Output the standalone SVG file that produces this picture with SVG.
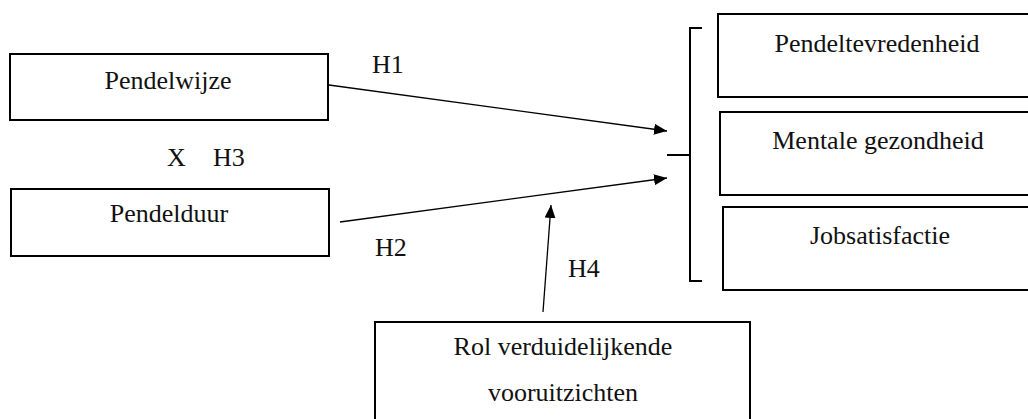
<svg xmlns="http://www.w3.org/2000/svg" width="1028" height="419" viewBox="0 0 1028 419" font-family="'Liberation Serif', 'DejaVu Serif', serif">
  <style>
    .box { fill: #ffffff; stroke: #000000; stroke-width: 2; }
    .lbl { font-size: 26px; fill: #111111; }
    .mid { text-anchor: middle; }
    .edge { fill: none; stroke: #000000; stroke-width: 1.3; }
    .brace { fill: none; stroke: #000000; stroke-width: 2; }
  </style>
  <defs>
    <marker id="arrow" markerUnits="userSpaceOnUse" markerWidth="14" markerHeight="12" refX="13" refY="5.5" orient="auto">
      <path d="M0,0 L13,5.5 L0,11 Z" fill="#000000"/>
    </marker>
  </defs>
  <rect width="1028" height="419" fill="#ffffff"/>

  <!-- predictors -->
  <g id="node-pendelwijze">
    <rect class="box" x="10" y="54" width="318" height="66"/>
    <text class="lbl mid" x="168" y="89">Pendelwijze</text>
  </g>
  <g id="node-pendelduur">
    <rect class="box" x="11" y="189" width="318" height="67"/>
    <text class="lbl mid" x="169" y="222">Pendelduur</text>
  </g>
  <g id="label-interaction">
    <text class="lbl" x="167" y="166">X</text>
    <text class="lbl" x="213" y="166">H3</text>
  </g>

  <!-- outcomes -->
  <g id="node-pendeltevredenheid">
    <rect class="box" x="718" y="14" width="320" height="83"/>
    <text class="lbl mid" x="877" y="52">Pendeltevredenheid</text>
  </g>
  <g id="node-mentale-gezondheid">
    <rect class="box" x="720" y="112" width="320" height="83"/>
    <text class="lbl mid" x="878" y="149">Mentale gezondheid</text>
  </g>
  <g id="node-jobsatisfactie">
    <rect class="box" x="723" y="207" width="320" height="83"/>
    <text class="lbl mid" x="880" y="244">Jobsatisfactie</text>
  </g>

  <!-- moderator -->
  <g id="node-rol">
    <rect class="box" x="375" y="322" width="375" height="110"/>
    <text class="lbl mid" x="563" y="355">Rol verduidelijkende</text>
    <text class="lbl mid" x="563" y="401">vooruitzichten</text>
  </g>

  <!-- connectors -->
  <g id="connectors">
    <path class="brace" d="M702,28 H690 V281 H702"/>
    <path class="brace" d="M667,155 H690"/>
    <line class="edge" x1="329" y1="85" x2="667" y2="131" marker-end="url(#arrow)"/>
    <line class="edge" x1="340" y1="222" x2="667" y2="178" marker-end="url(#arrow)"/>
    <line class="edge" x1="543" y1="312" x2="551" y2="205" marker-end="url(#arrow)"/>
    <text class="lbl" x="372" y="73">H1</text>
    <text class="lbl" x="375" y="256">H2</text>
    <text class="lbl" x="568" y="277">H4</text>
  </g>
</svg>
